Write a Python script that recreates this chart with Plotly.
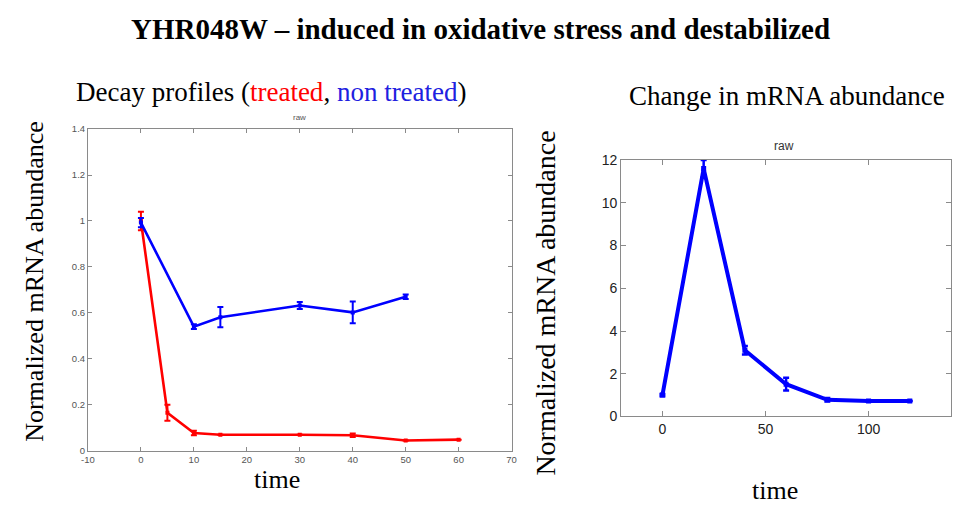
import plotly.graph_objects as go

W, H = 958, 510

# ---- data ----
treated_t = [0, 5, 10, 15, 30, 40, 50, 60]
treated_v = [1.00, 0.165, 0.077, 0.069, 0.069, 0.067, 0.044, 0.048]
treated_e = [0.04, 0.035, 0.01, 0.0, 0.0, 0.008, 0.0, 0.0]

untreated_t = [0, 10, 15, 30, 40, 50]
untreated_v = [0.993, 0.540, 0.581, 0.632, 0.602, 0.670]
untreated_e = [0.02, 0.01, 0.044, 0.015, 0.047, 0.01]

change_t = [0, 20, 40, 60, 80, 100, 120]
change_v = [1.0, 11.6, 3.1, 1.51, 0.78, 0.72, 0.72]
change_e = [0.05, 0.4, 0.2, 0.3, 0.08, 0.03, 0.0]

left_xticks = [-10, 0, 10, 20, 30, 40, 50, 60, 70]
left_xtext = ["-10", "0", "10", "20", "30", "40", "50", "60", "70"]
left_yticks = [0, 0.2, 0.4, 0.6, 0.8, 1.0, 1.2, 1.4]
left_ytext = ["0", "0.2", "0.4", "0.6", "0.8", "1", "1.2", "1.4"]
right_xticks = [0, 50, 100]
right_yticks = [0, 2, 4, 6, 8, 10, 12]

RED = "#ff0000"
BLUE = "#0000ff"
SERIF = "Liberation Serif, Times New Roman, serif"
SANS = "Liberation Sans, Arial, sans-serif"


def px(x):
    return x / W


def py(y):
    return 1 - y / H


fig = go.Figure()

fig.add_trace(go.Scatter(
    x=treated_t, y=treated_v, mode="lines+markers",
    line=dict(color=RED, width=2.6),
    marker=dict(color=RED, size=4, symbol="square"),
    error_y=dict(type="data", array=treated_e, color=RED, thickness=2, width=3),
    xaxis="x", yaxis="y", showlegend=False))
fig.add_trace(go.Scatter(
    x=untreated_t, y=untreated_v, mode="lines+markers",
    line=dict(color=BLUE, width=2.6),
    marker=dict(color=BLUE, size=4, symbol="square"),
    error_y=dict(type="data", array=untreated_e, color=BLUE, thickness=2, width=3),
    xaxis="x", yaxis="y", showlegend=False))
fig.add_trace(go.Scatter(
    x=change_t, y=change_v, mode="lines+markers",
    line=dict(color=BLUE, width=4),
    marker=dict(color=BLUE, size=5, symbol="square"),
    error_y=dict(type="data", array=change_e, color=BLUE, thickness=2.5, width=3),
    xaxis="x2", yaxis="y2", showlegend=False))

axis_common = dict(showgrid=False, zeroline=False, showline=True, linecolor="#8a8a8a",
                   linewidth=1, mirror="allticks", ticks="inside", tickcolor="#8a8a8a")

fig.update_layout(
    width=W, height=H,
    margin=dict(l=0, r=0, t=0, b=0),
    paper_bgcolor="white", plot_bgcolor="white",
    xaxis=dict(domain=[px(82), px(511)], range=[-10, 70], tickvals=left_xticks,
               ticktext=left_xtext, ticklen=4, anchor="y",
               tickfont=dict(family=SANS, size=9.5, color="#555555"), **axis_common),
    yaxis=dict(domain=[py(457), py(125)], range=[0, 1.4], tickvals=left_yticks,
               ticktext=left_ytext, ticklen=4, anchor="x",
               tickfont=dict(family=SANS, size=9.5, color="#555555"), **axis_common),
    xaxis2=dict(domain=[px(622), px(956)], range=[-20, 140], tickvals=right_xticks,
                ticklen=5, anchor="y2",
                tickfont=dict(family=SANS, size=14, color="#222222"), **axis_common),
    yaxis2=dict(domain=[py(421.7), py(157)], range=[0, 12], tickvals=right_yticks,
                ticklen=5, anchor="x2",
                tickfont=dict(family=SANS, size=14, color="#222222"), **axis_common),
)

ann = [
    dict(text="<b>YHR048W \u2013 induced in oxidative stress and destabilized</b>",
         x=px(479), y=py(22), font=dict(family=SERIF, size=29, color="black")),
    dict(text="Decay profiles (<span style='color:#ff0000'>treated</span>, "
              "<span style='color:#2020e0'>non treated</span>)",
         x=px(267.5), y=py(87), font=dict(family=SERIF, size=27, color="black")),
    dict(text="Change in mRNA abundance",
         x=px(790), y=py(91), font=dict(family=SERIF, size=27, color="black")),
    dict(text="raw", x=px(296.5), y=py(113), font=dict(family=SANS, size=8, color="#555555")),
    dict(text="raw", x=px(787), y=py(142), font=dict(family=SANS, size=12, color="#333333")),
    dict(text="Normalized mRNA abundance", x=px(27), y=py(282), textangle=-90,
         font=dict(family=SERIF, size=26, color="black")),
    dict(text="Normalized mRNA abundance", x=px(545), y=py(305), textangle=-90,
         font=dict(family=SERIF, size=28, color="black")),
    dict(text="time", x=px(273), y=py(487), font=dict(family=SERIF, size=26, color="black")),
    dict(text="time", x=px(778), y=py(498), font=dict(family=SERIF, size=26, color="black")),
]
for a in ann:
    a.update(xref="paper", yref="paper", showarrow=False, xanchor="center", yanchor="middle")
fig.update_layout(annotations=ann)

fig.write_html("out.html")
